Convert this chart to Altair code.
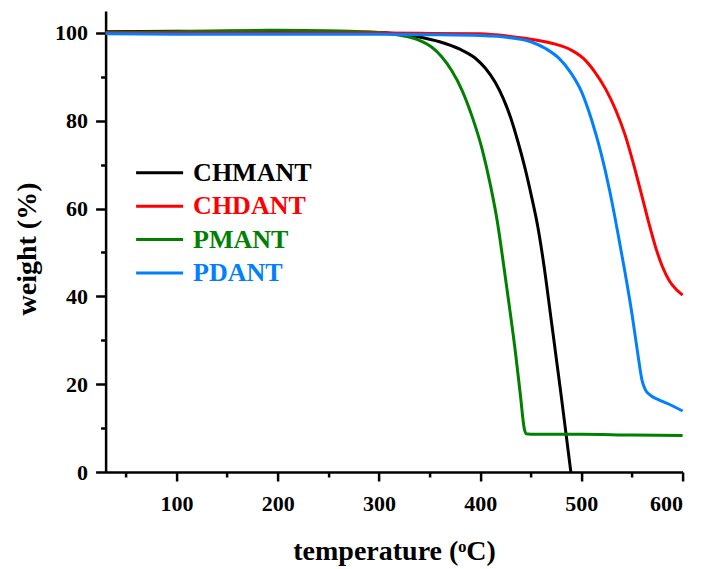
import altair as alt
import pandas as pd

# Series names and line colours
names = ["CHMANT", "PMANT", "CHDANT", "PDANT"]
colors = ["#000000", "#008000", "#FF0000", "#0080FF"]
legend_order = ["CHMANT", "CHDANT", "PMANT", "PDANT"]

# TGA curves: temperature (°C) and remaining weight (%)
chmant_t = [30, 100, 200, 280, 300, 320, 340, 360, 380, 395, 405, 415, 423, 430, 437,
            444, 451, 457, 463, 470, 480, 489.6]
chmant_w = [100.3, 100.4, 100.3, 100.2, 100.1, 99.8, 99.1, 98.0, 96.3, 94.3, 92.0, 88.7,
            85.0, 80.8, 75.5, 69.5, 62.5, 55.8, 47.1, 35.0, 17.5, 0.0]

pmant_t = [30, 100, 150, 200, 250, 290, 310, 325, 340, 352, 362, 372, 382, 392, 402,
           410, 417, 423, 429, 435, 440, 443.5, 445.5, 450, 500, 550, 600]
pmant_w = [100.1, 100.3, 100.5, 100.6, 100.5, 100.2, 99.9, 99.3, 98.3, 96.8, 94.6, 91.4,
           87.0, 81.0, 73.5, 65.5, 57.0, 47.5, 37.5, 27.0, 17.0, 10.0, 8.7, 8.6, 8.6,
           8.4, 8.3]

chdant_t = [30, 100, 200, 300, 350, 400, 430, 455, 475, 490, 502, 513, 524, 534, 543,
            551, 559, 567, 574, 580, 587, 594, 600]
chdant_w = [100.0, 100.0, 100.0, 100.0, 99.9, 99.8, 99.2, 98.4, 97.4, 96.1, 94.2, 91.2,
            87.2, 82.4, 76.9, 70.6, 63.6, 56.4, 50.7, 46.8, 43.5, 41.5, 40.3]

pdant_t = [30, 100, 200, 300, 350, 400, 430, 450, 465, 478, 490, 500, 510, 519, 528,
           536, 543, 550, 556, 560, 563, 568, 576, 585, 600]
pdant_w = [99.8, 99.7, 99.7, 99.7, 99.6, 99.4, 98.9, 98.0, 96.4, 94.2, 90.8, 86.7, 80.3,
           73.0, 64.0, 54.5, 45.6, 36.0, 26.5, 20.8, 18.8, 17.5, 16.5, 15.6, 13.9]

# Axis tick values
x_major = [100, 200, 300, 400, 500, 600]
x_minor = [50, 150, 250, 350, 450, 550]
y_major = [0, 20, 40, 60, 80, 100]
y_minor = [10, 30, 50, 70, 90]

series = {
    "CHMANT": (chmant_t, chmant_w),
    "PMANT": (pmant_t, pmant_w),
    "CHDANT": (chdant_t, chdant_w),
    "PDANT": (pdant_t, pdant_w),
}
rows = []
for name in names:
    ts, ws = series[name]
    for t, w in zip(ts, ws):
        rows.append({"series": name, "temperature": t, "weight": w})
df = pd.DataFrame(rows)
legend_df = pd.DataFrame({"series": legend_order})

FONT = "Liberation Serif"
W, H = 577, 461

axis_style = dict(
    grid=False,
    labelFont=FONT, labelFontSize=22, labelFontWeight="bold", labelColor="#000000",
    titleFont=FONT, titleFontSize=28, titleFontWeight="bold", titleColor="#000000",
    domainColor="#000000", domainWidth=2.5, tickColor="#000000", tickWidth=2.5,
)

x_scale = alt.Scale(domain=[30, 600], nice=False, zero=False)
y_scale = alt.Scale(domain=[0, 105], nice=False, zero=False)
color_scale = alt.Scale(domain=names, range=colors)

lines = alt.Chart(df).mark_line(strokeWidth=3, interpolate="monotone").encode(
    x=alt.X("temperature:Q", scale=x_scale,
            axis=alt.Axis(values=x_major, title="temperature (ᵒC)", orient="bottom",
                          tickSize=9, labelPadding=12, titleBaseline="alphabetic",
                          titleY=87, format="d", **axis_style)),
    y=alt.Y("weight:Q", scale=y_scale,
            axis=alt.Axis(values=y_major, title="weight (%)", orient="left",
                          tickSize=10, labelPadding=8, titleBaseline="alphabetic",
                          titleX=-70, titleY=237.5, format="d", **axis_style)),
    color=alt.Color("series:N", scale=color_scale, legend=None),
    detail="series:N",
)

# Invisible layer carrying the minor tick axes
minor = alt.Chart(df).mark_point(opacity=0).encode(
    x=alt.X("temperature:Q", scale=x_scale,
            axis=alt.Axis(values=x_minor, labels=False, title=None, orient="bottom",
                          tickSize=5, domain=False, grid=False,
                          tickColor="#000000", tickWidth=2.5)),
    y=alt.Y("weight:Q", scale=y_scale,
            axis=alt.Axis(values=y_minor, labels=False, title=None, orient="left",
                          tickSize=5, domain=False, grid=False,
                          tickColor="#000000", tickWidth=2.5)),
)

leg_y = alt.Y("series:N", sort=legend_order,
              scale=alt.Scale(type="point", domain=legend_order, range=[161.7, 262], padding=0),
              axis=None)

legend_lines = alt.Chart(legend_df).mark_rule(strokeWidth=3).encode(
    x=alt.value(30.5), x2=alt.value(77.5), y=leg_y,
    color=alt.Color("series:N", scale=color_scale, legend=None),
)
legend_text = alt.Chart(legend_df).mark_text(
    align="left", baseline="middle", font=FONT, fontSize=26, fontWeight="bold"
).encode(
    x=alt.value(87.5), y=leg_y, text="series:N",
    color=alt.Color("series:N", scale=color_scale, legend=None),
)

chart = alt.layer(minor, lines, legend_lines, legend_text).resolve_scale(
    y="independent"
).resolve_axis(x="independent", y="independent").properties(
    width=W, height=H,
    autosize=alt.AutoSizeParams(type="none"),
    padding={"left": 105.6, "top": 11, "right": 20.4, "bottom": 97},
).configure_view(stroke=None)

chart.save("out.html", embed_options={"renderer": "svg", "actions": False})
